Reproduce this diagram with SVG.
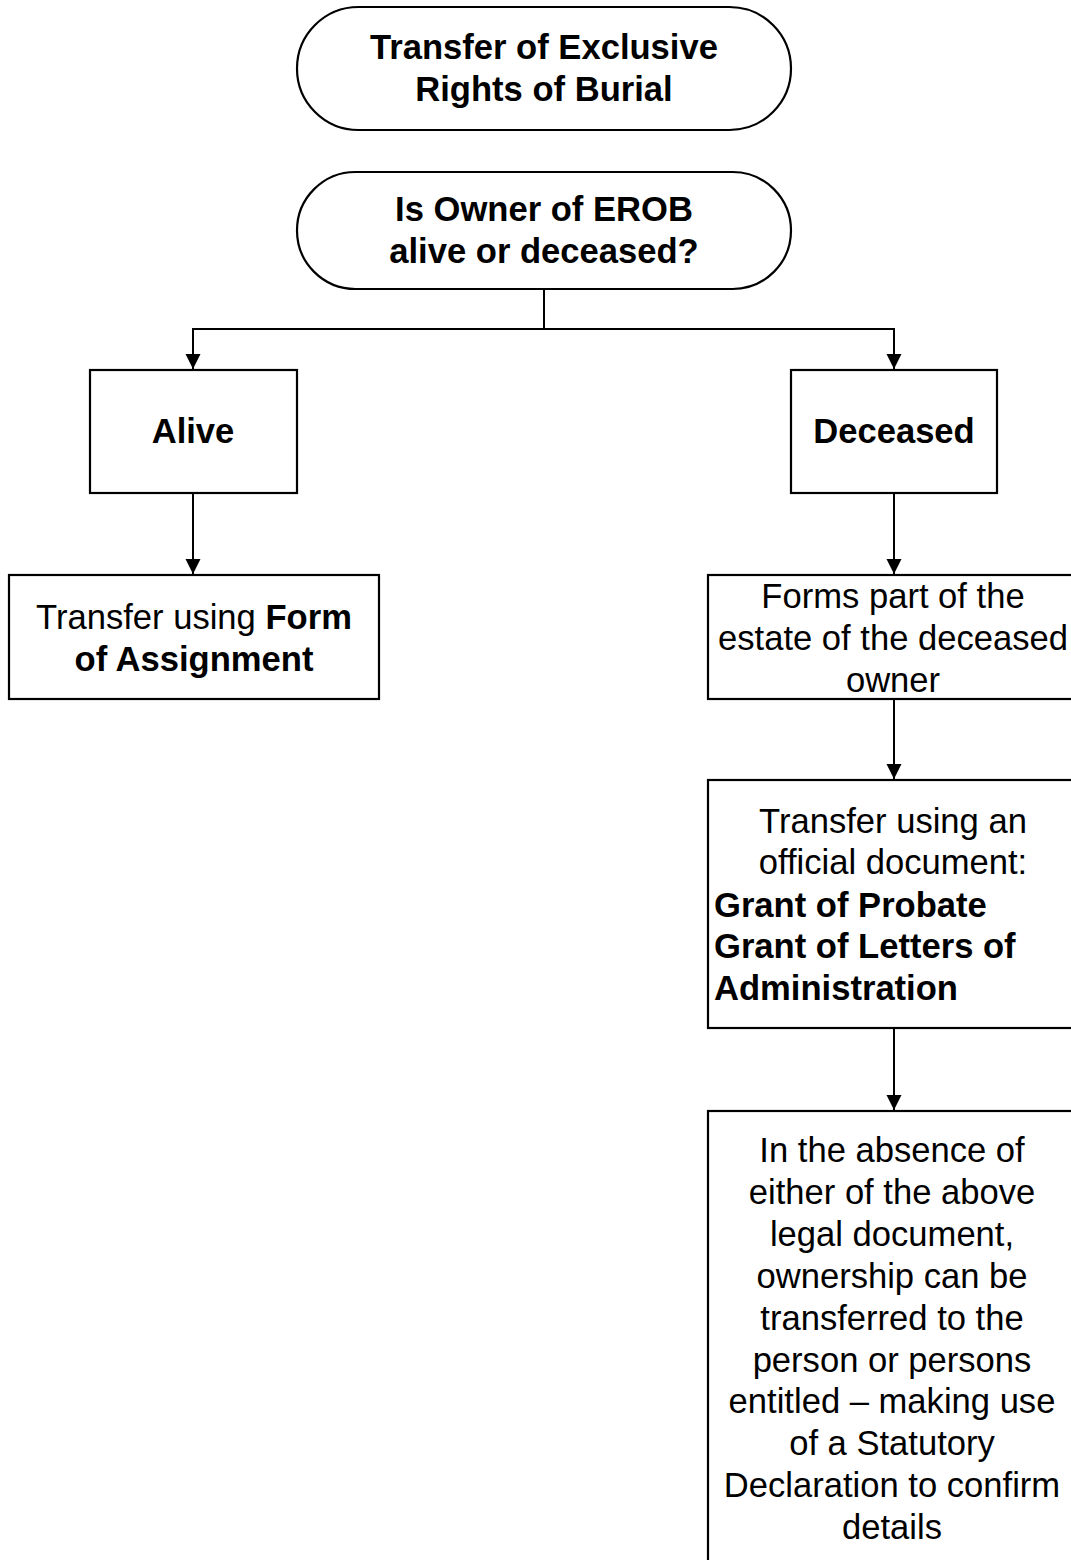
<svg xmlns="http://www.w3.org/2000/svg" width="1071" height="1560" viewBox="0 0 1071 1560">
<style>
.box{fill:#fff;stroke:#000;stroke-width:2.2}
.t{font-family:"Liberation Sans",Arial,sans-serif;font-size:34.6px;fill:#000;text-anchor:middle}
.b{font-weight:bold}
.l{text-anchor:start}
.c{fill:none;stroke:#000;stroke-width:2}
</style>
<defs>
<marker id="ah" markerWidth="16" markerHeight="16" refX="15" refY="7.5" orient="auto" markerUnits="userSpaceOnUse">
<path d="M0,0 L15,7.5 L0,15 Z" fill="#000"/>
</marker>
</defs>
<rect width="1071" height="1560" fill="#fff"/>
<g id="connectors">
<path class="c" d="M544,289 V329"/>
<path class="c" d="M544,329 H193 V369" marker-end="url(#ah)"/>
<path class="c" d="M544,329 H894 V369" marker-end="url(#ah)"/>
<path class="c" d="M193,493 V574" marker-end="url(#ah)"/>
<path class="c" d="M894,493 V574" marker-end="url(#ah)"/>
<path class="c" d="M894,699 V779" marker-end="url(#ah)"/>
<path class="c" d="M894,1028 V1110" marker-end="url(#ah)"/>
</g>
<g id="n1">
<rect class="box" x="297" y="7" width="494" height="123" rx="61.5"/>
<text class="t b" x="544" y="59">Transfer of Exclusive</text>
<text class="t b" x="544" y="101">Rights of Burial</text>
</g>
<g id="n2">
<rect class="box" x="297" y="172" width="494" height="117" rx="58.5"/>
<text class="t b" x="544" y="221">Is Owner of EROB</text>
<text class="t b" x="544" y="263">alive or deceased?</text>
</g>
<g id="n3">
<rect class="box" x="90" y="370" width="207" height="123"/>
<text class="t b" x="193" y="443">Alive</text>
</g>
<g id="n4">
<rect class="box" x="791" y="370" width="206" height="123"/>
<text class="t b" x="894" y="443">Deceased</text>
</g>
<g id="n5">
<rect class="box" x="9" y="575" width="370" height="124"/>
<text class="t" x="194" y="629">Transfer using <tspan class="b">Form</tspan></text>
<text class="t b" x="194" y="671">of Assignment</text>
</g>
<g id="n6">
<rect class="box" x="708" y="575" width="380" height="124"/>
<text class="t" x="893" y="608">Forms part of the</text>
<text class="t" x="893" y="650">estate of the deceased</text>
<text class="t" x="893" y="692">owner</text>
</g>
<g id="n7">
<rect class="box" x="708" y="780" width="380" height="248"/>
<text class="t" x="893" y="833">Transfer using an</text>
<text class="t" x="893" y="874">official document:</text>
<text class="t b l" x="714" y="917">Grant of Probate</text>
<text class="t b l" x="714" y="958">Grant of Letters of</text>
<text class="t b l" x="714" y="1000">Administration</text>
</g>
<g id="n8">
<rect class="box" x="708" y="1111" width="380" height="470"/>
<text class="t" x="892" y="1162">In the absence of</text>
<text class="t" x="892" y="1204">either of the above</text>
<text class="t" x="892" y="1246">legal document,</text>
<text class="t" x="892" y="1288">ownership can be</text>
<text class="t" x="892" y="1330">transferred to the</text>
<text class="t" x="892" y="1372">person or persons</text>
<text class="t" x="892" y="1413">entitled – making use</text>
<text class="t" x="892" y="1455">of a Statutory</text>
<text class="t" x="892" y="1497">Declaration to confirm</text>
<text class="t" x="892" y="1539">details</text>
</g>
</svg>
